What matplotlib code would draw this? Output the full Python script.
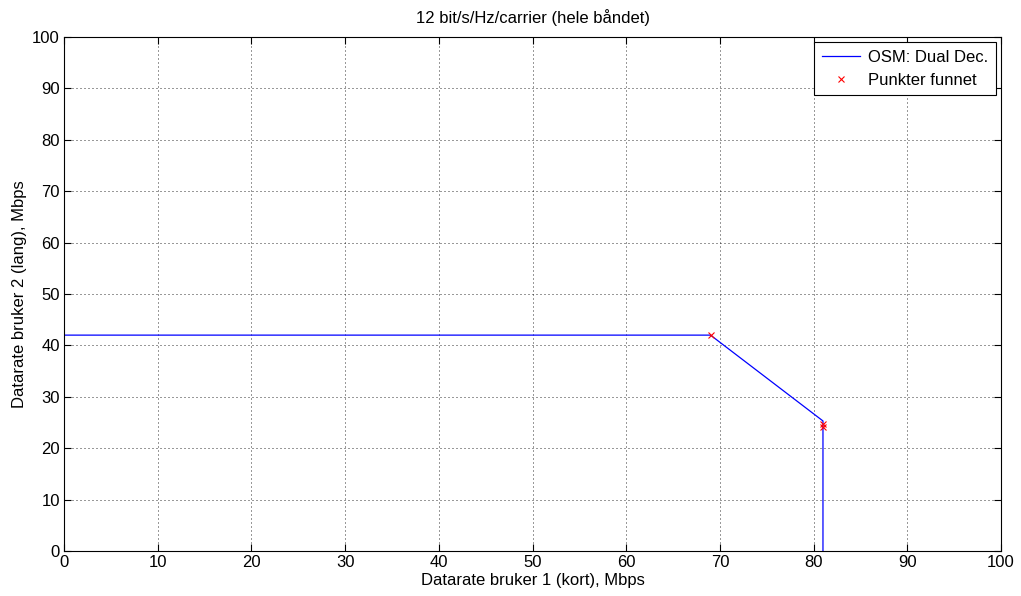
import matplotlib
matplotlib.use("Agg")
import matplotlib.pyplot as plt

plt.rcParams['font.family'] = ['Liberation Sans', 'DejaVu Sans']

# OSM dual decoding rate region boundary
rate_user1 = [0, 69.0, 81.0, 81.0]
rate_user2 = [42.0, 42.0, 25.3, 0]

# points found
found_x = [69.0, 81.0, 81.0]
found_y = [42.0, 24.7, 24.2]

fs = 12

fig = plt.figure(figsize=(10.21, 5.96), dpi=100)
ax = fig.add_axes([64 / 1021, 45 / 596, 937 / 1021, 514 / 596])

ax.plot(rate_user1, rate_user2, color='blue', lw=0.9, label='OSM: Dual Dec.')
ax.plot(found_x, found_y, 'x', color='red', ms=4, mew=0.8, label='Punkter funnet')

ax.set_xlim(0, 100)
ax.set_ylim(0, 100)
ax.set_xticks(range(0, 101, 10))
ax.set_yticks(range(0, 101, 10))
ax.grid(True, linestyle=(0, (1, 3)), color='black', lw=0.72, alpha=0.8)
ax.tick_params(direction='in', length=5, labelsize=fs, top=True, right=True, pad=3)
for s in ax.spines.values():
    s.set_linewidth(0.8)

ax.set_title('12 bit/s/Hz/carrier (hele båndet)', fontsize=fs, pad=10)
ax.set_xlabel('Datarate bruker 1 (kort), Mbps', fontsize=fs, labelpad=2)
ax.set_ylabel('Datarate bruker 2 (lang), Mbps', fontsize=fs, labelpad=4)

leg = ax.legend(loc='upper right', fontsize=fs, fancybox=False, framealpha=1,
                edgecolor='black', borderaxespad=0.3, handlelength=2.3,
                borderpad=0.45, labelspacing=0.5, handletextpad=0.5)
leg.get_frame().set_linewidth(0.8)

fig.savefig('out.png', dpi=100)
